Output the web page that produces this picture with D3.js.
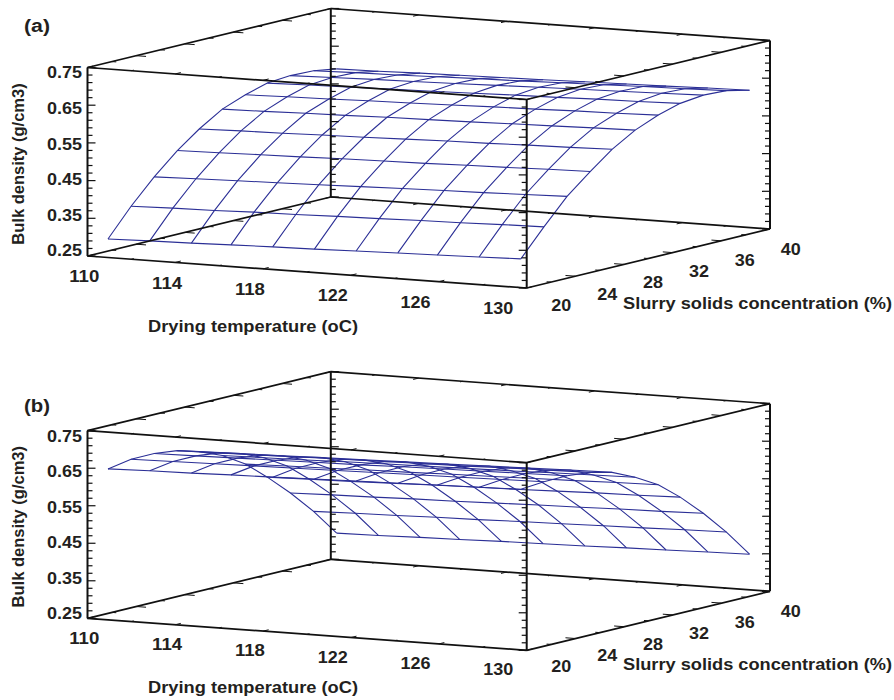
<!DOCTYPE html>
<html>
<head>
<meta charset="utf-8">
<script src="https://cdn.jsdelivr.net/npm/d3@7"></script>
<style>
  html, body { margin: 0; padding: 0; background: #fff; }
  svg { display: block; }
  text { font-family: "Liberation Sans", Arial, sans-serif; font-weight: bold; fill: #231f20; }
</style>
</head>
<body>
<div id="chart"></div>
<script>
const width = 894;
const height = 700;

// grid positions of the wireframe
const tempValues = [110.6, 112.5, 114.4, 116.2, 118.1, 120, 121.9, 123.8, 125.6, 127.5, 129.4];
const solidsValues = [20.6, 22.5, 24.4, 26.3, 28.1, 30, 31.9, 33.7, 35.6, 37.5, 39.4];

// bulk density, one row per solids value, one column per temperature
const densityA = [
  [.293, .296, .298, .301, .304, .306, .309, .312, .314, .317, .320],
  [.365, .368, .370, .373, .375, .378, .380, .383, .385, .388, .390],
  [.428, .431, .434, .436, .439, .442, .445, .448, .450, .453, .456],
  [.483, .485, .488, .490, .493, .495, .497, .500, .502, .505, .507],
  [.526, .529, .531, .534, .536, .539, .542, .544, .547, .549, .552],
  [.564, .566, .569, .571, .574, .576, .578, .581, .583, .586, .588],
  [.587, .590, .592, .595, .597, .600, .603, .605, .608, .610, .613],
  [.604, .607, .609, .612, .614, .617, .620, .622, .625, .627, .630],
  [.609, .612, .615, .617, .620, .623, .626, .629, .631, .634, .637],
  [.607, .610, .612, .615, .618, .620, .623, .626, .629, .631, .634],
  [.597, .599, .602, .604, .606, .608, .611, .613, .615, .618, .620]
];
const densityB = [
  [.646, .649, .651, .654, .656, .659, .662, .664, .667, .669, .672],
  [.657, .659, .661, .663, .665, .667, .669, .671, .673, .675, .677],
  [.657, .659, .661, .663, .665, .667, .670, .672, .674, .676, .678],
  [.650, .652, .654, .657, .659, .661, .663, .665, .668, .670, .672],
  [.633, .636, .638, .641, .643, .646, .648, .651, .653, .656, .658],
  [.608, .610, .612, .615, .617, .619, .621, .623, .626, .628, .630],
  [.570, .573, .575, .578, .580, .583, .585, .588, .590, .593, .595],
  [.521, .524, .526, .529, .532, .535, .537, .540, .543, .545, .548],
  [.464, .467, .469, .472, .474, .477, .480, .482, .485, .487, .490],
  [.400, .403, .405, .408, .410, .413, .415, .418, .420, .423, .425],
  [.327, .329, .332, .334, .337, .339, .341, .344, .346, .349, .351]
];

const tempLabels = [110, 114, 118, 122, 126, 130];
const solidsLabels = [20, 24, 28, 32, 36, 40];
const densityLabels = [0.25, 0.35, 0.45, 0.55, 0.65, 0.75];

const svg = d3.select("#chart").append("svg")
    .attr("width", width)
    .attr("height", height)
    .style("background", "#fff");

// oblique projection: temperature and solids run along the floor, density goes straight up
const tempX = d3.scaleLinear([110, 130], [0, 439.2]);
const tempY = d3.scaleLinear([110, 130], [0, 32]);
const solidsX = d3.scaleLinear([20, 40], [0, 243.3]);
const solidsY = d3.scaleLinear([20, 40], [0, -59]);

// the original figure is stretched sideways, so labels get a fixed width
function stretch(sel, w) {
  return sel.attr("textLength", w).attr("lengthAdjust", "spacingAndGlyphs");
}

function drawPanel(p) {
  const g = svg.append("g");
  const densityY = d3.scaleLinear([0.25, 0.75], [0, -p.boxHeight]);
  const project = (t, s, z) => [
    p.x0 + tempX(t) + solidsX(s),
    p.y0 + tempY(t) + solidsY(s) + densityY(z)
  ];
  const line = d3.line();

  // surface
  const wire = g.append("g")
      .attr("fill", "none")
      .attr("stroke", "#2b2f96")
      .attr("stroke-width", 1.1);
  wire.selectAll(".row")
    .data(p.density)
    .join("path")
      .attr("class", "row")
      .attr("d", (row, i) => line(row.map((z, j) => project(tempValues[j], solidsValues[i], z))));
  wire.selectAll(".col")
    .data(tempValues)
    .join("path")
      .attr("class", "col")
      .attr("d", (t, j) => line(solidsValues.map((s, i) => project(t, s, p.density[i][j]))));

  // box edges
  const edges = [
    [[110, 20, .25], [130, 20, .25]], [[110, 40, .25], [130, 40, .25]],
    [[110, 20, .75], [130, 20, .75]], [[110, 40, .75], [130, 40, .75]],
    [[110, 20, .25], [110, 40, .25]], [[130, 20, .25], [130, 40, .25]],
    [[110, 20, .75], [110, 40, .75]], [[130, 20, .75], [130, 40, .75]]
  ];
  const box = g.append("g").attr("fill", "none").attr("stroke", "#111");
  box.selectAll(".edge")
    .data(edges)
    .join("path")
      .attr("class", "edge")
      .attr("stroke-width", 1.7)
      .attr("d", d => line(d.map(c => project(...c))));

  // the verticals are a bit heavier, with ticks pointing into the box
  const verticals = [
    { t: 110, s: 20, dir: 1 }, { t: 110, s: 40, dir: 1 },
    { t: 130, s: 20, dir: -1 }, { t: 130, s: 40, dir: -1 }
  ];
  const zTicks = d3.range(0, 26).map(i => 0.25 + i * 0.02);
  verticals.forEach(v => {
    box.append("path")
        .attr("stroke-width", 2)
        .attr("d", line([project(v.t, v.s, .25), project(v.t, v.s, .75)]));
    box.selectAll(null)
      .data(zTicks)
      .join("path")
        .attr("stroke-width", 1.2)
        .attr("d", (z, i) => {
          const [x, y] = project(v.t, v.s, z);
          return line([[x, y], [x + v.dir * (i % 5 === 0 ? 8 : 5), y]]);
        });
  });

  // small ticks on the floor and roof edges
  const rim = [.25, .75];
  rim.forEach(z => {
    [20, 40].forEach(s => {
      box.selectAll(null)
        .data(d3.range(110, 131, 2))
        .join("path")
          .attr("stroke-width", 1)
          .attr("d", (t, i) => line([project(t, s, z), project(t, s + (s === 20 ? 1 : -1) * (i % 2 ? .2 : .45), z)]));
    });
    [110, 130].forEach(t => {
      box.selectAll(null)
        .data(d3.range(20, 41, 2))
        .join("path")
          .attr("stroke-width", 1)
          .attr("d", (s, i) => line([project(t, s, z), project(t + (t === 110 ? 1 : -1) * (i % 2 ? .2 : .45), s, z)]));
    });
  });

  // tick labels
  const labelY = d3.scaleLinear([0.25, 0.75], p.densityLabelY);
  stretch(g.selectAll(".dlab")
    .data(densityLabels)
    .join("text")
      .attr("class", "dlab")
      .attr("x", 82)
      .attr("y", d => labelY(d))
      .attr("dy", "0.36em")
      .attr("text-anchor", "end")
      .attr("font-size", 16)
      .text(d => d.toFixed(2)), 35);

  const tLabX = d3.scaleLinear([110, 130], [84.3, 498.3]);
  const tLabY = d3.scaleLinear([110, 130], p.tempLabelY);
  stretch(g.selectAll(".tlab")
    .data(tempLabels)
    .join("text")
      .attr("class", "tlab")
      .attr("x", d => tLabX(d))
      .attr("y", d => tLabY(d))
      .attr("dy", "0.36em")
      .attr("text-anchor", "middle")
      .attr("font-size", 16)
      .text(d => d), 30);

  const sLabX = d3.scaleLinear([20, 40], [561.3, 790.7]);
  const sLabY = d3.scaleLinear([20, 40], p.solidsLabelY);
  stretch(g.selectAll(".slab")
    .data(solidsLabels)
    .join("text")
      .attr("class", "slab")
      .attr("x", d => sLabX(d))
      .attr("y", d => sLabY(d))
      .attr("dy", "0.36em")
      .attr("text-anchor", "middle")
      .attr("font-size", 16)
      .text(d => d), 20);

  // titles
  stretch(g.append("text")
      .attr("x", 253).attr("y", p.tempTitleY)
      .attr("dy", "0.36em")
      .attr("text-anchor", "middle")
      .attr("font-size", 16)
      .text("Drying temperature (oC)"), 210);
  stretch(g.append("text")
      .attr("x", 757.5).attr("y", p.solidsTitleY)
      .attr("dy", "0.36em")
      .attr("text-anchor", "middle")
      .attr("font-size", 16)
      .text("Slurry solids concentration (%)"), 269);
  g.append("text")
      .attr("transform", `translate(18.5,${p.densityTitleY}) rotate(-90)`)
      .attr("dy", "0.36em")
      .attr("text-anchor", "middle")
      .attr("font-size", 16.5)
      .text("Bulk density (g/cm3)");
  stretch(g.append("text")
      .attr("x", 37).attr("y", p.tagY)
      .attr("dy", "0.36em")
      .attr("text-anchor", "middle")
      .attr("font-size", 18)
      .text(p.tag), 26);
}

drawPanel({
  tag: "(a)", density: densityA,
  x0: 87.5, y0: 256, boxHeight: 188.5,
  densityLabelY: [250.7, 72.7],
  tempLabelY: [276.7, 308],
  solidsLabelY: [305, 249],
  tempTitleY: 326, solidsTitleY: 303.3, densityTitleY: 164, tagY: 25.7
});

drawPanel({
  tag: "(b)", density: densityB,
  x0: 87.5, y0: 618.3, boxHeight: 187.6,
  densityLabelY: [613.3, 436.3],
  tempLabelY: [638.3, 669.3],
  solidsLabelY: [666, 611.3],
  tempTitleY: 687.7, solidsTitleY: 664.3, densityTitleY: 526.7, tagY: 405.7
});
</script>
</body>
</html>
